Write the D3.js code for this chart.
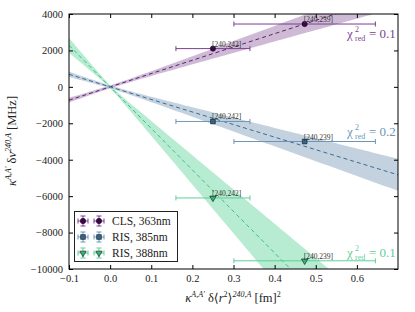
<!DOCTYPE html>
<html>
<head>
<meta charset="utf-8">
<script src="https://cdn.jsdelivr.net/npm/d3@7"></script>
<style>
  body { margin: 0; background: #fff; }
  text { font-family: "Liberation Serif", "DejaVu Serif", serif; }
</style>
</head>
<body>
<div id="container"></div>
<script>
// series and values
const series = ["CLS, 363nm", "RIS, 385nm", "RIS, 388nm"];
const pairLabels = ["[240,242]", "[240,239]"];
const xVals = [0.25, 0.473];
const xErrs = [0.09, 0.172];
const yCLS = [2100, 3450];
const yRIS385 = [-1900, -3000];
const yRIS388 = [-6100, -9550];
const yErrs = [40, 40];
// linear fits through the origin (slope, slope uncertainty)
const slopes = [7300, -6900, -22800];
const slopeErrs = [1050, 1250, 4000];
const chi2 = ["0.1", "0.2", "0.1"];
const xTicks = [-0.1, 0.0, 0.1, 0.2, 0.3, 0.4, 0.5, 0.6];
const yTicks = [4000, 2000, 0, -2000, -4000, -6000, -8000, -10000];

const yData = [yCLS, yRIS385, yRIS388];
const markColor = ["#440154", "#31688e", "#35b779"];
const barColor = ["#7b3f93", "#6b96b8", "#5fcf98"];
const lineColor = ["#5b2470", "#3b6b94", "#3dbf82"];
const bandColor = ["#8c5a9e", "#6f93b1", "#54cf93"];
const shapes = [d3.symbolCircle, d3.symbolSquare, d3.symbolTriangle];

const W = 415, H = 312;
const m = { l: 69, r: 17, t: 14, b: 43 };
const svg = d3.select("#container").append("svg")
  .attr("width", W).attr("height", H);

const x = d3.scaleLinear().domain([-0.1, 0.7]).range([m.l, W - m.r]);
const y = d3.scaleLinear().domain([-10000, 4000]).range([H - m.b, m.t]);

svg.append("clipPath").attr("id", "clip")
  .append("rect")
  .attr("x", m.l).attr("y", m.t)
  .attr("width", W - m.l - m.r).attr("height", H - m.t - m.b);

const plot = svg.append("g").attr("clip-path", "url(#clip)");

// fit bands and lines
const xs = d3.range(-0.1, 0.7001, 0.01);
slopes.forEach((s, i) => {
  const half = (xx) => Math.sqrt(80 * 80 + (slopeErrs[i] * xx) ** 2);
  const area = d3.area()
    .x(d => x(d))
    .y0(d => y(s * d - half(d)))
    .y1(d => y(s * d + half(d)));
  plot.append("path").datum(xs)
    .attr("d", area)
    .attr("fill", bandColor[i])
    .attr("fill-opacity", 0.42);
});
slopes.forEach((s, i) => {
  plot.append("line")
    .attr("x1", x(-0.1)).attr("y1", y(s * -0.1))
    .attr("x2", x(0.7)).attr("y2", y(s * 0.7))
    .attr("stroke", lineColor[i])
    .attr("stroke-width", 1)
    .attr("stroke-dasharray", "4,3");
});

// error bars, markers, labels
yData.forEach((ys, i) => {
  ys.forEach((v, j) => {
    const cx = x(xVals[j]), cy = y(v);
    const x0 = x(xVals[j] - xErrs[j]), x1 = x(xVals[j] + xErrs[j]);
    const g = plot.append("g").attr("stroke", barColor[i]).attr("stroke-width", 1);
    g.append("line").attr("x1", x0).attr("x2", x1).attr("y1", cy).attr("y2", cy);
    g.append("line").attr("x1", x0).attr("x2", x0).attr("y1", cy - 2.5).attr("y2", cy + 2.5);
    g.append("line").attr("x1", x1).attr("x2", x1).attr("y1", cy - 2.5).attr("y2", cy + 2.5);
    g.append("line").attr("x1", cx).attr("x2", cx)
      .attr("y1", y(v + yErrs[j])).attr("y2", y(v - yErrs[j]));
    const rot = i === 2 ? 180 : 0;
    plot.append("path")
      .attr("d", d3.symbol().type(shapes[i]).size(i === 2 ? 18 : 22)())
      .attr("transform", `translate(${cx},${cy}) rotate(${rot})`)
      .attr("fill", markColor[i])
      .attr("stroke", "#111").attr("stroke-width", 0.6);
    svg.append("text")
      .attr("x", cx - 1).attr("y", cy - 2)
      .attr("font-size", 7.5)
      .attr("fill", "#333")
      .text(pairLabels[j]);
  });
});

// chi2 labels
const chiY = [38, 136, 257];
chi2.forEach((c, i) => {
  const g = svg.append("g").attr("fill", barColor[i]);
  const bx = 347, by = chiY[i];
  g.append("text").attr("x", bx).attr("y", by).attr("font-size", 13).text("χ");
  g.append("text").attr("x", bx + 8).attr("y", by - 6).attr("font-size", 8).text("2");
  g.append("text").attr("x", bx + 8).attr("y", by + 3).attr("font-size", 8).text("red");
  g.append("text").attr("x", bx + 22).attr("y", by).attr("font-size", 13).text("= " + c);
});

// frame and ticks
svg.append("rect")
  .attr("x", m.l).attr("y", m.t)
  .attr("width", W - m.l - m.r).attr("height", H - m.t - m.b)
  .attr("fill", "none").attr("stroke", "#000").attr("stroke-width", 1);

const fmtX = (d) => (d < 0 ? "−" : "") + Math.abs(d).toFixed(1);
const fmtY = (d) => (d < 0 ? "−" : "") + Math.abs(d);

const axB = svg.append("g").attr("transform", `translate(0,${H - m.b})`)
  .call(d3.axisBottom(x).tickValues(xTicks).tickSizeInner(-4).tickSizeOuter(0).tickPadding(6).tickFormat(fmtX));
const axT = svg.append("g").attr("transform", `translate(0,${m.t})`)
  .call(d3.axisTop(x).tickValues(xTicks).tickSizeInner(-4).tickSizeOuter(0).tickFormat(""));
const axL = svg.append("g").attr("transform", `translate(${m.l},0)`)
  .call(d3.axisLeft(y).tickValues(yTicks).tickSizeInner(-4).tickSizeOuter(0).tickPadding(6).tickFormat(fmtY));
const axR = svg.append("g").attr("transform", `translate(${W - m.r},0)`)
  .call(d3.axisRight(y).tickValues(yTicks).tickSizeInner(-4).tickSizeOuter(0).tickFormat(""));
[axB, axT, axL, axR].forEach(a => {
  a.select(".domain").remove();
  a.selectAll("text").attr("font-family", "Liberation Serif, serif").attr("font-size", 10.5).attr("fill", "#222");
});

// axis labels
const xl = svg.append("text")
  .attr("x", 233).attr("y", 302)
  .attr("text-anchor", "middle").attr("font-size", 12.5).attr("fill", "#222");
xl.append("tspan").attr("font-style", "italic").text("κ");
xl.append("tspan").attr("font-size", 8).attr("dy", -5).attr("font-style", "italic").text("A,A′");
xl.append("tspan").attr("dy", 5).text(" δ⟨");
xl.append("tspan").attr("font-style", "italic").text("r");
xl.append("tspan").attr("font-size", 8).attr("dy", -5).text("2");
xl.append("tspan").attr("dy", 5).text("⟩");
xl.append("tspan").attr("font-size", 8).attr("dy", -5).attr("font-style", "italic").text("240,A");
xl.append("tspan").attr("dy", 5).text("  [fm]");
xl.append("tspan").attr("font-size", 8).attr("dy", -5).text("2");

const yl = svg.append("text")
  .attr("transform", "translate(16,141) rotate(-90)")
  .attr("text-anchor", "middle").attr("font-size", 12.5).attr("fill", "#222");
yl.append("tspan").attr("font-style", "italic").text("κ");
yl.append("tspan").attr("font-size", 8).attr("dy", -5).attr("font-style", "italic").text("A,A′");
yl.append("tspan").attr("dy", 5).text(" δ");
yl.append("tspan").attr("font-style", "italic").text("ν");
yl.append("tspan").attr("font-size", 8).attr("dy", -5).attr("font-style", "italic").text("240,A");
yl.append("tspan").attr("dy", 5).text("  [MHz]");

// legend
const lg = svg.append("g");
lg.append("rect")
  .attr("x", 74.5).attr("y", 211.5).attr("width", 103).attr("height", 50)
  .attr("fill", "#fff").attr("stroke", "#222").attr("stroke-width", 1);
series.forEach((s, i) => {
  const ry = 221 + i * 16;
  [83, 99].forEach(cx => {
    const g = lg.append("g").attr("stroke", barColor[i]).attr("stroke-width", 1);
    g.append("line").attr("x1", cx - 5).attr("x2", cx + 5).attr("y1", ry).attr("y2", ry);
    g.append("line").attr("x1", cx - 5).attr("x2", cx - 5).attr("y1", ry - 2.5).attr("y2", ry + 2.5);
    g.append("line").attr("x1", cx + 5).attr("x2", cx + 5).attr("y1", ry - 2.5).attr("y2", ry + 2.5);
    g.append("line").attr("x1", cx).attr("x2", cx).attr("y1", ry - 5).attr("y2", ry + 5);
    g.append("line").attr("x1", cx - 2.5).attr("x2", cx + 2.5).attr("y1", ry - 5).attr("y2", ry - 5);
    g.append("line").attr("x1", cx - 2.5).attr("x2", cx + 2.5).attr("y1", ry + 5).attr("y2", ry + 5);
    lg.append("path")
      .attr("d", d3.symbol().type(shapes[i]).size(i === 2 ? 18 : 22)())
      .attr("transform", `translate(${cx},${ry}) rotate(${i === 2 ? 180 : 0})`)
      .attr("fill", markColor[i]).attr("stroke", "#111").attr("stroke-width", 0.6);
  });
  lg.append("text").attr("x", 112).attr("y", ry + 4)
    .attr("font-size", 11.5).attr("fill", "#222").text(s);
});
</script>
</body>
</html>
